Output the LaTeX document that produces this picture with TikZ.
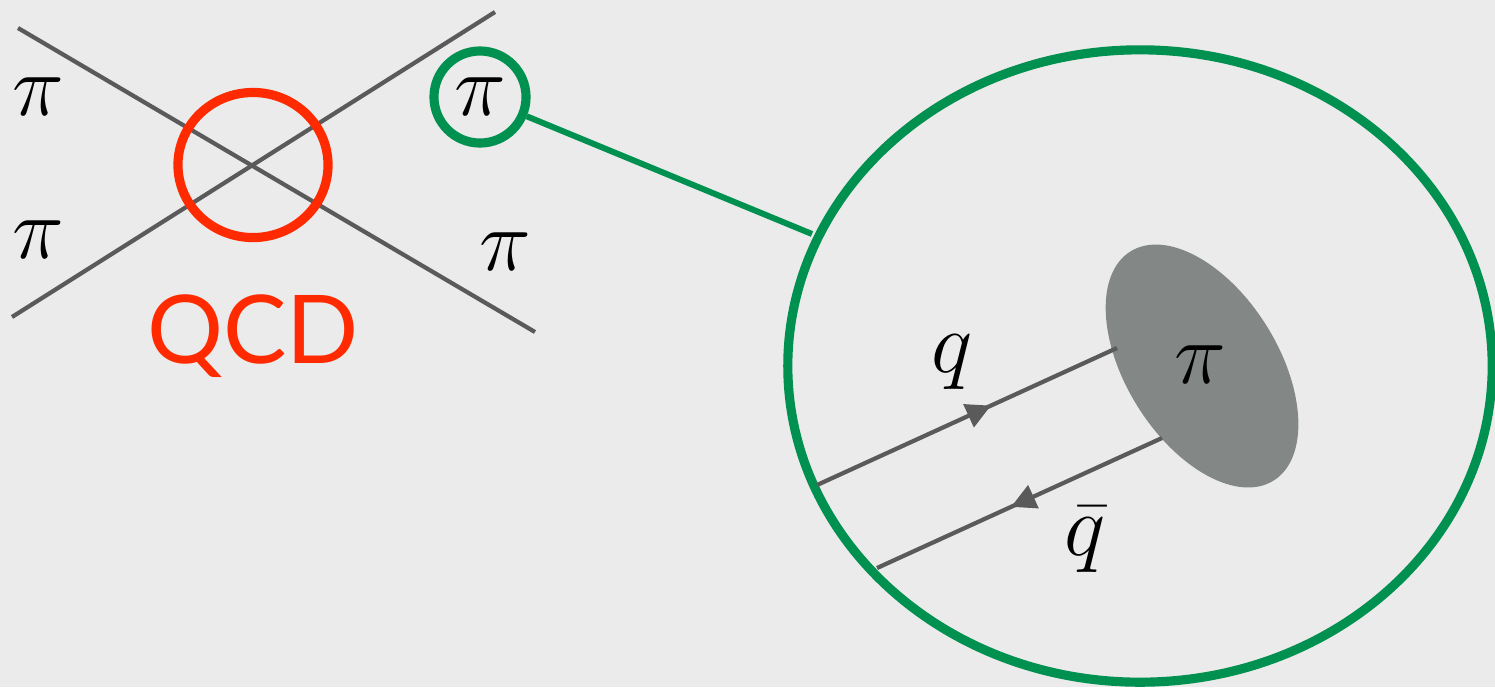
\documentclass[tikz,border=0pt]{standalone}
\usepackage{fontspec}
\newfontfamily\qcdfont{Lato}
\usetikzlibrary{shapes.geometric,decorations.markings,arrows.meta}
\definecolor{bg}{HTML}{EBEBEB}
\definecolor{lgray}{HTML}{5A5A5A}
\definecolor{qred}{HTML}{FF2A00}
\definecolor{qgreen}{HTML}{00904F}
\definecolor{blob}{HTML}{838785}
\tikzset{
  leg/.style={draw=lgray, line width=1.2pt},
  lab/.style={inner sep=0pt, font=\fontsize{27}{31}\selectfont},
  quark/.style={draw=lgray, line width=1.2pt, postaction={decorate},
    decoration={markings, mark=at position #1 with {\arrow{Triangle[length=7pt,width=7pt]}}}},
}
\begin{document}
\begin{tikzpicture}[x=0.01cm,y=-0.01cm]
\fill[bg] (0,0) rectangle (1495,687);
\useasboundingbox (0,0) rectangle (1495,687);
% scattering lines
\coordinate (a1) at (18,28);
\coordinate (a2) at (535,332);
\coordinate (b1) at (12,317);
\coordinate (b2) at (495,12);
\draw[leg] (a1) -- (a2);
\draw[leg] (b1) -- (b2);
\node[draw=qred, line width=2.6pt, ellipse, minimum width=1.5cm, minimum height=1.45cm, inner sep=0pt] (vx) at (253,165) {};
\node[lab] (p1) at (38,97) {$\pi$};
\node[lab] (p2) at (38,240) {$\pi$};
\node[lab] (p3) at (505,252) {$\pi$};
\node[text=qred, font=\qcdfont\fontsize{27}{31}\selectfont, inner sep=0pt, anchor=base] (qcd) at (253,363) {QCD};
% zoom
\node[draw=qgreen, line width=2.6pt, circle, minimum size=0.92cm, inner sep=0pt, font=\fontsize{27}{31}\selectfont] (sc) at (480,97) {$\pi$};
\node[draw=qgreen, line width=2.6pt, ellipse, minimum width=7.04cm, minimum height=6.32cm, inner sep=0pt] (big) at (1140,366) {};
\coordinate (e1) at (812,234);
\draw[draw=qgreen, line width=1.7pt] (sc) -- (e1);
% pion blob
\node[fill=blob, ellipse, minimum width=2.7cm, minimum height=1.52cm, inner sep=0pt, rotate=-58] (pi) at (1202,366) {};
\node[lab] (pl) at (1200,365) {$\pi$};
% quark lines
\coordinate (q1) at (817,485);
\coordinate (q2) at (1117,348);
\coordinate (r1) at (1162,438);
\coordinate (r2) at (877,568);
\draw[quark=0.58] (q1) -- (q2);
\draw[quark=0.53] (r1) -- (r2);
\node[lab] (ql) at (952,362) {$q$};
\node[lab] (qb) at (1085,540) {$\bar q$};
\end{tikzpicture}
\end{document}
